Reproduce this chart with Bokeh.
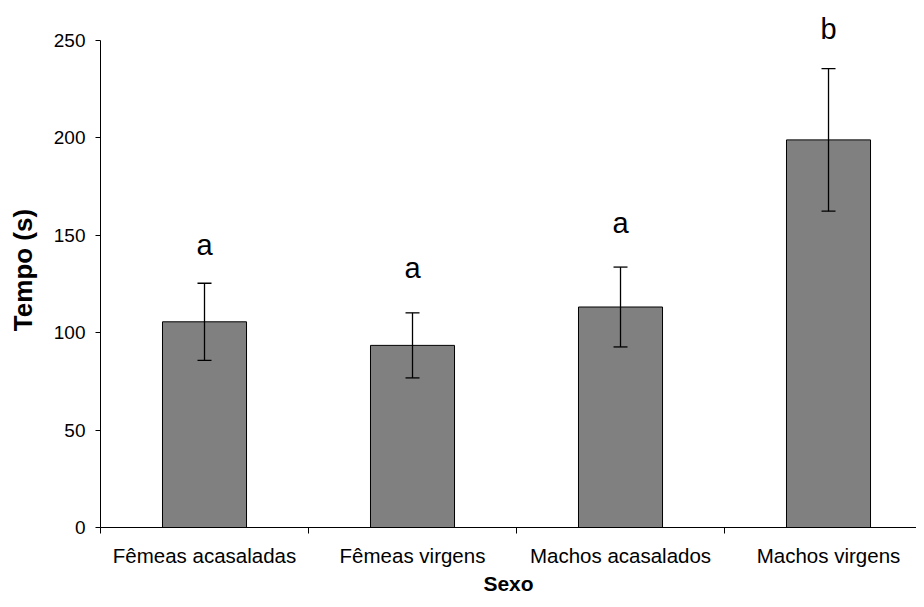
from bokeh.plotting import figure
from bokeh.models import ColumnDataSource, FixedTicker, Whisker, TeeHead, Range1d, LabelSet
from bokeh.core.properties import value
from bokeh.embed import file_html
from bokeh.resources import INLINE

# ---- data ----
categories = ["Fêmeas acasaladas", "Fêmeas virgens", "Machos acasalados", "Machos virgens"]
means = [105.6, 93.5, 113.2, 199.0]
errors = [19.8, 16.7, 20.5, 36.6]
letters = ["a", "a", "a", "b"]
letter_y = [140, 128, 151, 251]
y_ticks = [0, 50, 100, 150, 200, 250]

FONT = "Liberation Sans"

xs = [i + 0.5 for i in range(len(categories))]
src = ColumnDataSource(dict(
    x=xs, top=means,
    upper=[m + e for m, e in zip(means, errors)],
    lower=[m - e for m, e in zip(means, errors)],
    letter=letters, ly=letter_y,
))

p = figure(width=916, height=599, output_backend="svg", toolbar_location=None,
           x_range=Range1d(0, 3.923), y_range=Range1d(0, 264.4),
           min_border_left=100, min_border_right=0, min_border_top=12, min_border_bottom=72)
p.outline_line_color = None
p.xgrid.visible = False
p.ygrid.visible = False
p.background_fill_color = "white"
p.border_fill_color = "white"

p.vbar(x="x", top="top", bottom=0, width=0.404, source=src,
       fill_color="#808080", line_color="black", line_width=1)

w = Whisker(base="x", upper="upper", lower="lower", source=src,
            line_color="black", line_width=1.3,
            upper_head=TeeHead(size=14, line_color="black", line_width=1.3),
            lower_head=TeeHead(size=14, line_color="black", line_width=1.3))
w.level = "annotation"
p.add_layout(w)

labels = LabelSet(x="x", y="ly", text="letter", source=src, text_align="center",
                  text_baseline="alphabetic", text_font=value(FONT),
                  text_font_size=value("29px"), text_color="black")
p.add_layout(labels)

# x axis
xa = p.xaxis[0]
xa.ticker = FixedTicker(ticks=xs, minor_ticks=[float(i) for i in range(len(categories) + 1)])
xa.major_label_overrides = {x: c for x, c in zip(xs, categories)}
xa.major_tick_line_color = None
xa.major_tick_out = 0
xa.major_tick_in = 0
xa.minor_tick_line_color = "black"
xa.minor_tick_out = 6
xa.minor_tick_in = 0
xa.axis_line_color = "black"
xa.major_label_text_font = FONT
xa.major_label_text_font_size = "20.5px"
xa.major_label_text_color = "black"
xa.major_label_standoff = 10
xa.axis_label = "Sexo"
xa.axis_label_text_font = FONT
xa.axis_label_text_font_style = "bold"
xa.axis_label_text_font_size = "21px"
xa.axis_label_text_color = "black"
xa.axis_label_standoff = 2

# y axis
ya = p.yaxis[0]
ya.ticker = FixedTicker(ticks=y_ticks, minor_ticks=[])
ya.bounds = (0, 250)
ya.axis_line_color = "black"
ya.major_tick_line_color = "black"
ya.major_tick_out = 5
ya.major_tick_in = 0
ya.minor_tick_line_color = None
ya.major_label_text_font = FONT
ya.major_label_text_font_size = "19px"
ya.major_label_text_color = "black"
ya.major_label_standoff = 10
ya.axis_label = "Tempo (s)"
ya.axis_label_text_font = FONT
ya.axis_label_text_font_style = "bold"
ya.axis_label_text_font_size = "26px"
ya.axis_label_text_color = "black"
ya.axis_label_standoff = 13

open("out.html", "w").write(file_html(p, INLINE))
